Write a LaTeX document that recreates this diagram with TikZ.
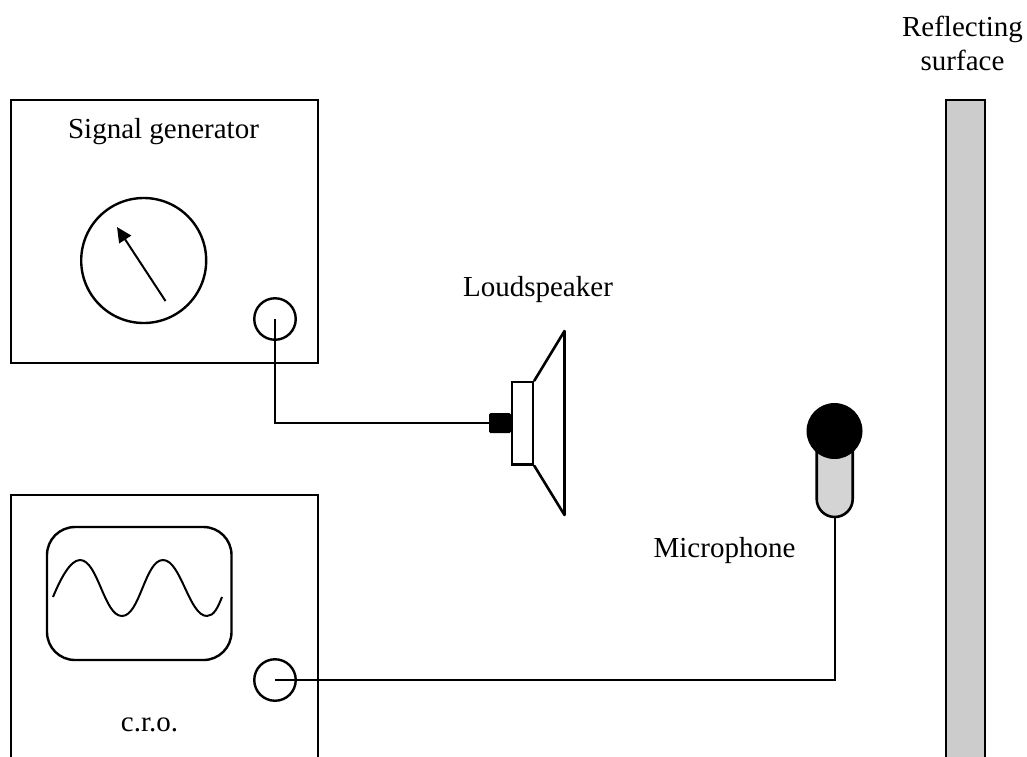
\documentclass[tikz,border=0pt]{standalone}
\usepackage{fontspec}
\usetikzlibrary{arrows.meta}
\setmainfont{Liberation Serif}
\tikzset{
  px/.style={x=1pt,y=-1pt},
  lw/.style={line width=2.6pt},
  thinw/.style={line width=2.4pt},
  lab/.style={font=\fontsize{29}{34}\selectfont,inner sep=0pt,align=center,text=black,anchor=base},
  jack/.style={circle,draw,line width=2.4pt,minimum size=41.5pt,inner sep=0pt},
}
\begin{document}
\begin{tikzpicture}[px,line join=miter]
\useasboundingbox (0,0) rectangle (1027,756);
% boxes
\draw[lw] (11,757) -- (11,495) -- (318,495) -- (318,757);
\draw[lw] (11,100) rectangle (318,363);
% reflector
\draw[lw,fill=black!20] (946,757) -- (946,100) -- (985,100) -- (985,757);
% dial
\node[circle,draw,line width=2.4pt,minimum size=125pt,inner sep=0pt] (dial) at (143.7,260.5) {};
\coordinate (needle) at (165.5,301);
\coordinate (tip) at (117,227);
\draw[line width=2pt,-{Triangle[length=15pt,width=14pt]}] (needle) -- (tip);
% jacks
\node[jack] (j1) at (275,319) {};
\node[jack] (j2) at (275,680) {};
% speaker
\node[draw,lw,minimum width=21pt,minimum height=82.5pt,inner sep=0pt,anchor=north west] (mag) at (510.7,380.7) {};
\draw[lw,line join=round,line cap=round] (mag.north east) -- (564.5,331) -- (564.5,515) -- (mag.south east);
\node[fill=black,rounded corners=1.5pt,minimum width=22pt,minimum height=20pt,inner sep=0pt] (plug) at (500,423) {};
\coordinate (c1) at (275,423);
\draw[thinw] (j1.center) -- (c1) -- (plug.west);
% microphone
\draw[lw,fill=black!17] (816.7,440) -- (816.7,499) arc[start angle=180,end angle=0,x radius=18pt,y radius=-18pt] -- (852.7,440) -- cycle;
\coordinate (micb) at (834.7,517);
\node[circle,fill=black,minimum size=56pt,inner sep=0pt] (head) at (834.5,431) {};
\coordinate (c2) at (834.7,680);
\draw[thinw] (j2.center) -- (c2) -- (micb);
% screen
\draw[line width=2.4pt,rounded corners=28pt] (47,527) rectangle (231.5,660);
\draw[line width=2pt] (53,597) .. controls (60,580) and (70,560) .. (80,560) .. controls (98,560) and (104,616) .. (122,616)
 .. controls (140,616) and (145,560) .. (163,560) .. controls (181,560) and (189,616) .. (207,616) .. controls (214,616) and (218,607) .. (222,597);
% labels
\node[lab] (sg) at (163.5,138) {Signal generator};
\node[lab] (cro) at (149.5,731) {c.r.o.};
\node[lab] (ls) at (538,296) {Loudspeaker};
\node[lab] (mic) at (724.5,557) {Microphone};
\node[lab,anchor=center] (rs) at (962.5,43.5) {Reflecting\\surface};
\end{tikzpicture}
\end{document}
